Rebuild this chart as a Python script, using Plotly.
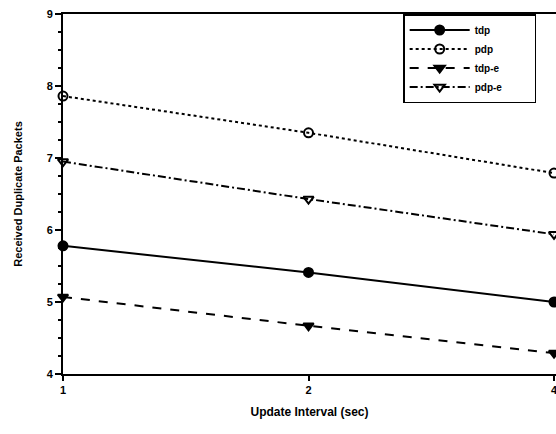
import plotly.graph_objects as go

# update interval (sec) and received duplicate packets per protocol
intervals = [1, 2, 4]
tdp = [5.78, 5.41, 5.0]
pdp = [7.86, 7.35, 6.79]
tdp_e = [5.07, 4.67, 4.29]
pdp_e = [6.95, 6.43, 5.94]

series = [
    ("tdp", tdp, "solid", "circle"),
    ("pdp", pdp, "dot", "circle-open"),
    ("tdp-e", tdp_e, "dash", "triangle-down"),
    ("pdp-e", pdp_e, "8px,3px,2px,3px", "triangle-down-open"),
]

pad = "\u00a0" * 10  # widen the legend box a bit

fig = go.Figure()
for name, vals, dash, sym in series:
    fig.add_trace(go.Scatter(
        x=intervals, y=vals, name=name + pad, mode="lines+markers",
        line=dict(color="black", width=2, dash=dash),
        marker=dict(symbol=sym, size=9, color="black",
                    line=dict(color="black", width=2)),
        cliponaxis=False,
    ))

font = dict(family="Liberation Sans, Arial, sans-serif", size=11,
            color="black", weight="bold")

fig.update_layout(
    width=556, height=434,
    margin=dict(l=63, r=0, t=14, b=60),
    paper_bgcolor="white", plot_bgcolor="white",
    font=font,
    showlegend=True,
    legend=dict(x=0.69, y=1.0, xanchor="left", yanchor="top",
                bordercolor="black", borderwidth=1.5, bgcolor="white",
                font=dict(size=10, weight="bold", color="black"),
                tracegroupgap=0, itemwidth=60),
)
fig.update_xaxes(
    type="log", range=[0, 0.6045], automargin=False,
    tickvals=[1, 2, 4], ticktext=["1", "2", "4"],
    ticklabeloverflow="allow",
    showgrid=False, zeroline=False,
    showline=True, linecolor="black", linewidth=2, mirror=True,
    ticks="outside", ticklen=5, tickwidth=1.5, tickcolor="black",
    title=dict(text="Update Interval (sec)", standoff=12,
               font=dict(size=12, weight="bold", color="black")),
)
fig.update_yaxes(
    range=[4, 9], dtick=1, automargin=False,
    ticklabeloverflow="allow",
    showgrid=False, zeroline=False,
    showline=True, linecolor="black", linewidth=2,
    ticks="outside", ticklen=6, tickwidth=1.5, tickcolor="black",
    minor=dict(ticks="outside", ticklen=3, dtick=0.25, tickcolor="black"),
    title=dict(text="Received Duplicate Packets", standoff=22,
               font=dict(size=11, weight="bold", color="black")),
)

# drop the default page margin so the 556x434 figure fills the window
fig.write_html("out.html", config={"displayModeBar": False},
               post_script="document.body.style.margin='0';")
